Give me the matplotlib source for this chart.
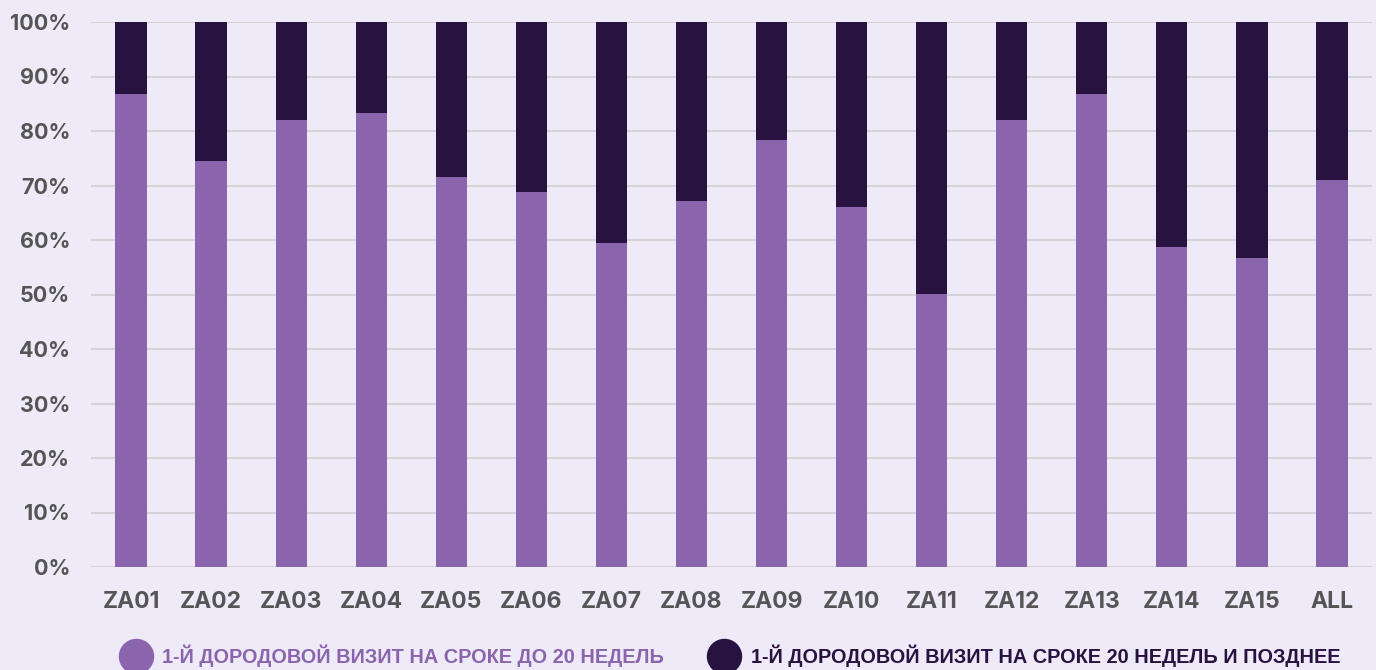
import numpy as np
import matplotlib.pyplot as plt
from matplotlib.lines import Line2D

# Data
categories = ["ZA01", "ZA02", "ZA03", "ZA04", "ZA05", "ZA06", "ZA07", "ZA08",
              "ZA09", "ZA10", "ZA11", "ZA12", "ZA13", "ZA14", "ZA15", "ALL"]
early = [86.8, 74.5, 82.0, 83.3, 71.6, 68.8, 59.4, 67.2,
         78.3, 66.1, 50.1, 82.0, 86.8, 58.7, 56.7, 71.0]
late = [100 - v for v in early]

series_names = ["1-Й ДОРОДОВОЙ ВИЗИТ НА СРОКЕ ДО 20 НЕДЕЛЬ",
                "1-Й ДОРОДОВОЙ ВИЗИТ НА СРОКЕ 20 НЕДЕЛЬ И ПОЗДНЕЕ"]

bg = "#EEEAF7"
light = "#8A64AC"
dark = "#271240"
tick_col = "#555555"

fig = plt.figure(figsize=(13.76, 6.70), dpi=100, facecolor=bg)
ax = fig.add_axes([91 / 1376, 103 / 670, 1281 / 1376, 545 / 670])
ax.set_facecolor(bg)

x = np.arange(len(categories))
w = 0.39
ax.bar(x, early, w, color=light, zorder=3)
ax.bar(x, late, w, bottom=early, color=dark, zorder=3)

ax.set_xlim(-0.5, len(categories) - 0.5)
ax.set_ylim(0, 100)
ax.set_yticks(np.arange(0, 101, 10))
ax.set_yticklabels([f"{v}%" for v in range(0, 101, 10)])
ax.set_xticks(x)
ax.set_xticklabels(categories)

ax.grid(axis="y", color="#D5D3DA", linewidth=1.5, zorder=0)
for s in ax.spines.values():
    s.set_visible(False)
ax.tick_params(length=0)
ax.tick_params(axis="y", pad=15)
ax.tick_params(axis="x", pad=17)
for lab in ax.get_yticklabels():
    lab.set_fontfamily("Inter")
    lab.set_fontweight("bold")
    lab.set_fontsize(15.5)
    lab.set_color(tick_col)
for lab in ax.get_xticklabels():
    lab.set_fontfamily("Inter")
    lab.set_fontweight("bold")
    lab.set_fontsize(16.5)
    lab.set_color(tick_col)

handles = [Line2D([], [], marker="o", linestyle="none", markersize=24.5, color=light),
           Line2D([], [], marker="o", linestyle="none", markersize=24.5, color=dark)]
leg = fig.legend(handles, series_names, loc="center", bbox_to_anchor=(0.529, 0.022),
                 ncol=2, frameon=False, handletextpad=0.35, columnspacing=2.0,
                 prop={"family": "Liberation Sans", "weight": "bold", "size": 14.3})
leg.get_texts()[0].set_color(light)
leg.get_texts()[1].set_color(dark)

fig.savefig("out.png", dpi=100, facecolor=bg)
